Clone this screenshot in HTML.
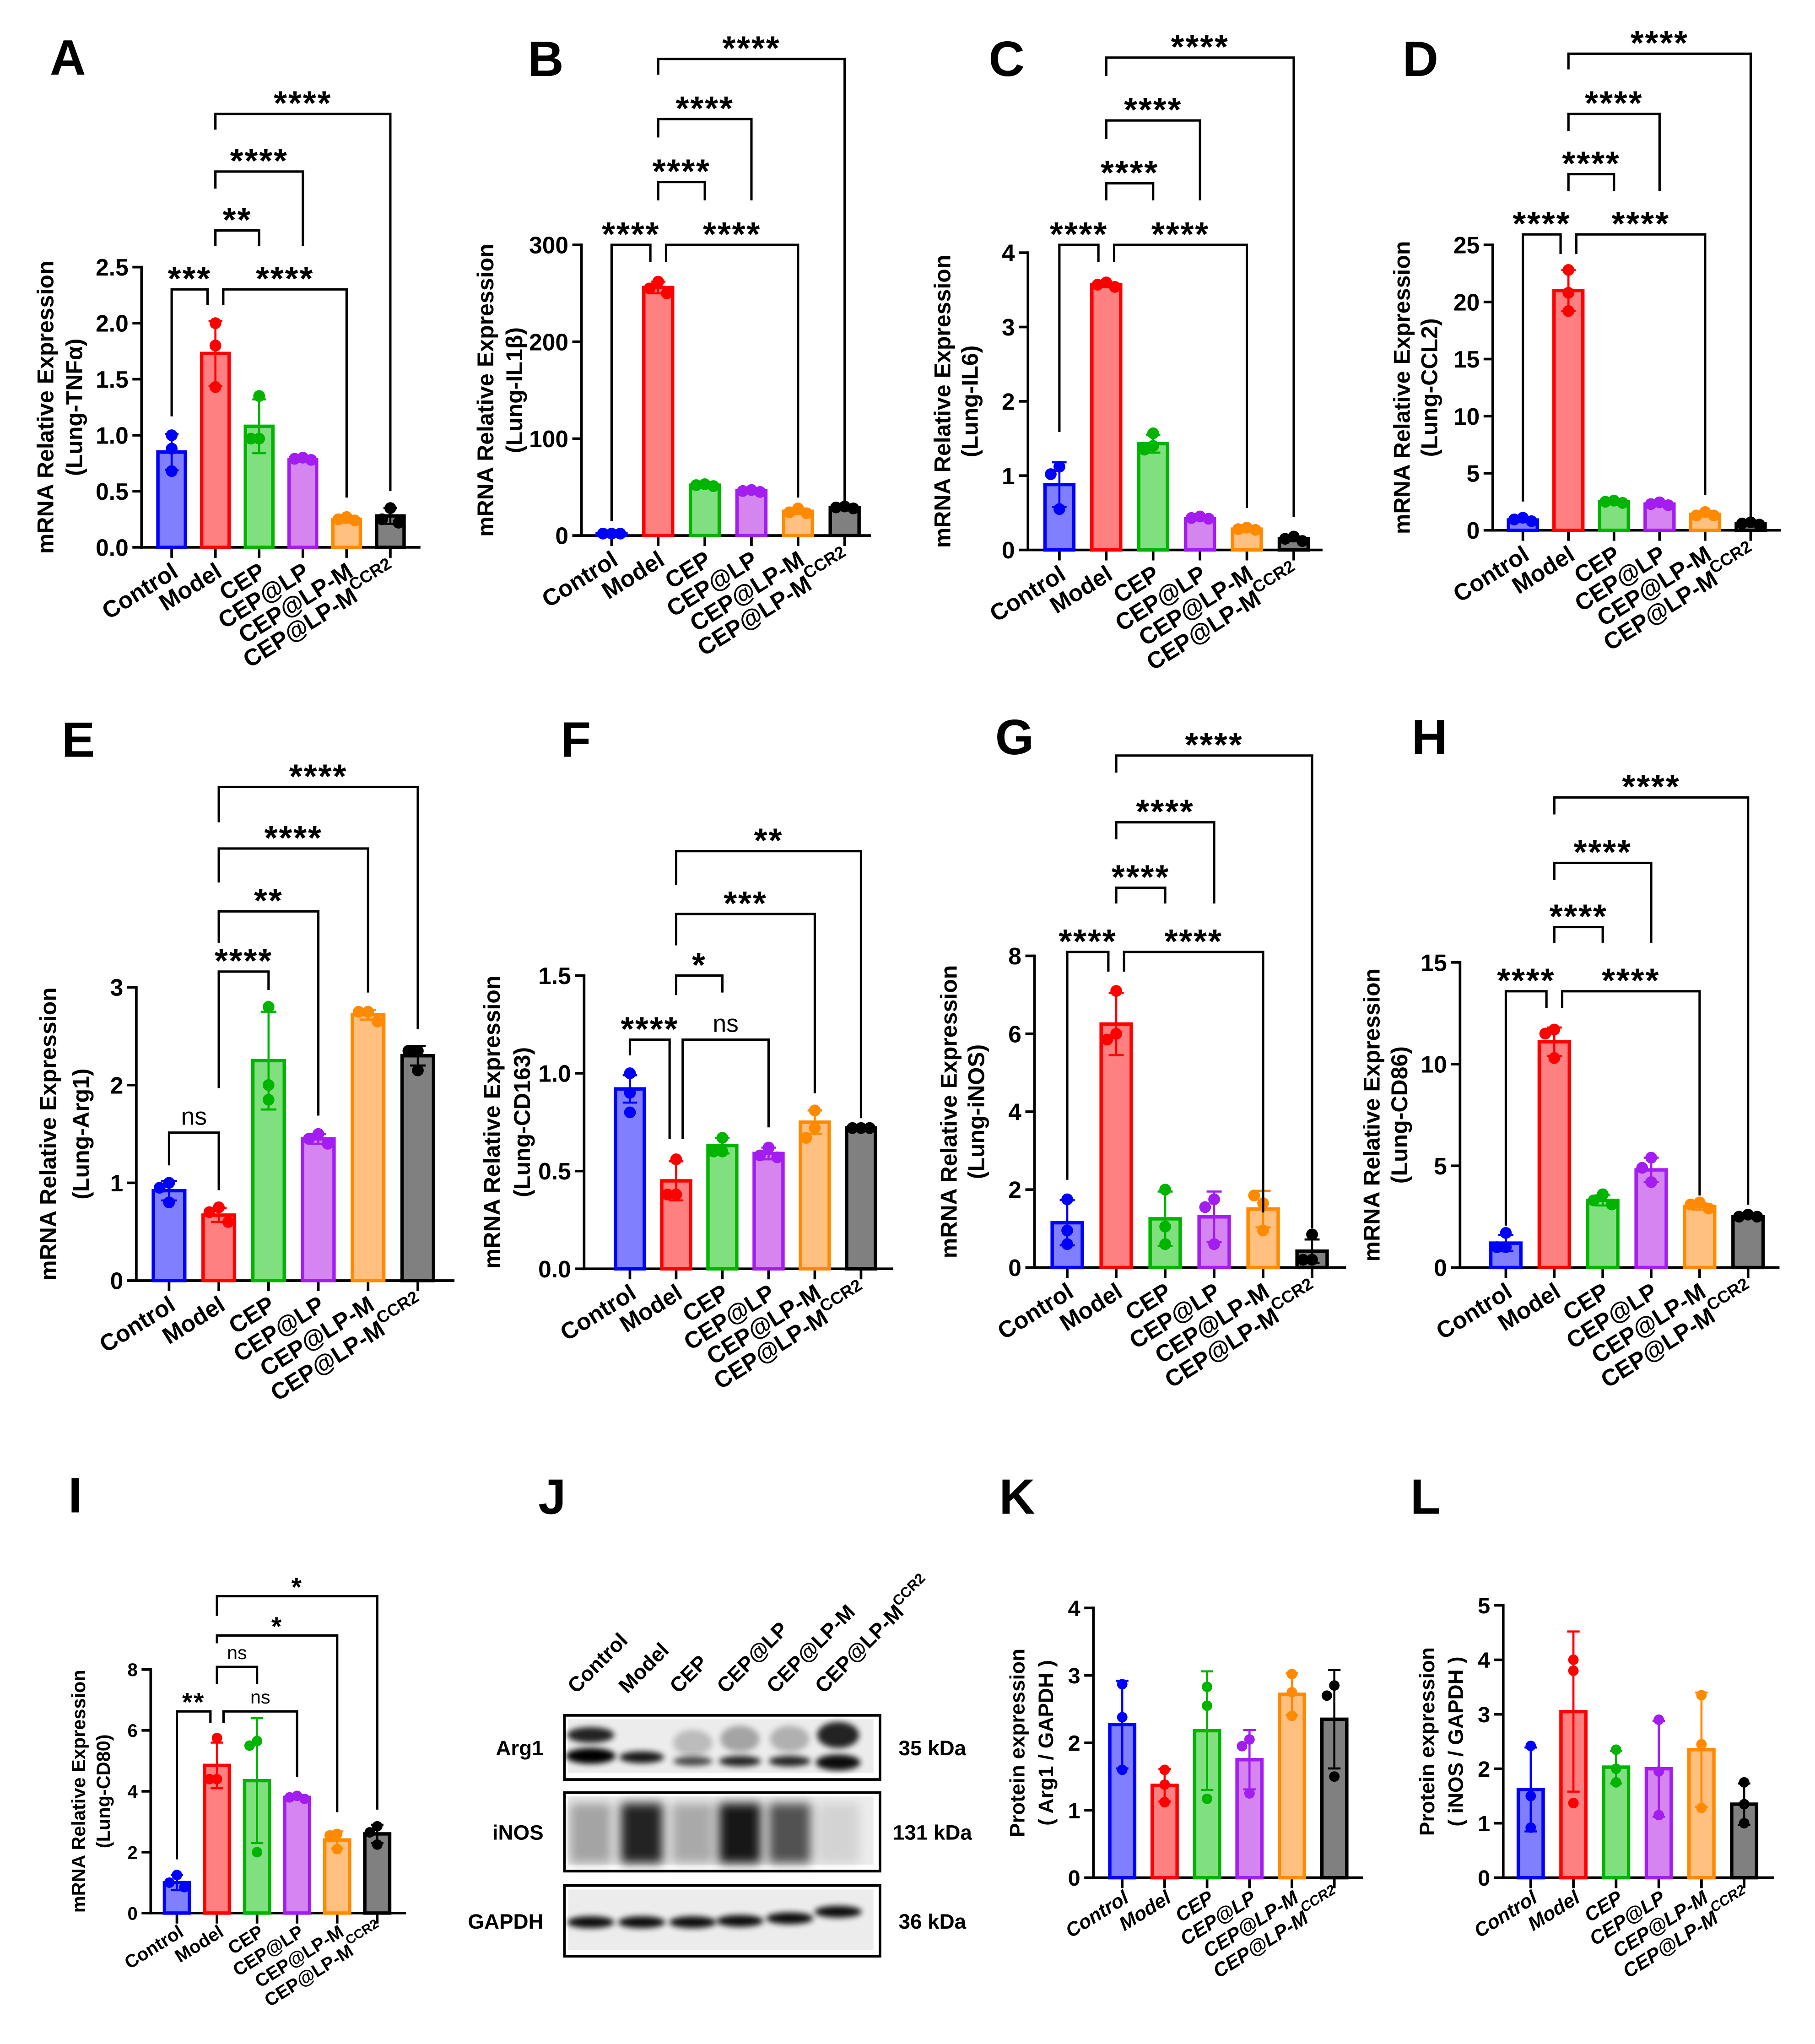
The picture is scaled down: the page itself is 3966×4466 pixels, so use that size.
<!DOCTYPE html>
<html><head><meta charset="utf-8"><style>
html,body{margin:0;padding:0;background:#fff;}
svg{display:block;font-family:"Liberation Sans",Arial,sans-serif;}
</style></head><body>
<svg id="fig" xmlns="http://www.w3.org/2000/svg" width="3966" height="4466" viewBox="0 0 1386 1561">
<defs><filter id="blur" x="-50%" y="-50%" width="200%" height="200%"><feGaussianBlur stdDeviation="2.2"/></filter>
<filter id="blur2" x="-50%" y="-50%" width="200%" height="200%"><feGaussianBlur stdDeviation="4"/></filter></defs>
<rect x="0" y="0" width="1386" height="1561" fill="#fff"/>
</svg>
<script>
// ---------- data ----------
const categories=['Control','Model','CEP','CEP@LP','CEP@LP-M','CEP@LP-M'];
const aMeans=[0.85,1.73,1.08,0.78,0.25,0.28];
const aPts=[[1.0,0.88,0.68],[2.0,1.8,1.43],[1.35,0.97,0.97],[0.8,0.79,0.78],[0.27,0.25,0.24],[0.35,0.25,0.22]];
const aErr=[0.16,0.29,0.24,0.02,0.03,0.07];
const aTicks=[0,0.5,1.0,1.5,2.0,2.5];
const aTickLabels=['0.0','0.5','1.0','1.5','2.0','2.5'];
const bMeans=[2,256,52,46,25,29];
const bPts=[[2,2,2],[262,255,250],[53,52,51],[47,46,45],[28,24,23],[30,29,28]];
const bErr=[0.5,6,1,1,3,1];
const bTicks=[0,100,200,300];
const bTickLabels=['0','100','200','300'];
const cMeans=[0.88,3.57,1.43,0.42,0.28,0.15];
const cPts=[[1.12,1.02,0.55],[3.6,3.57,3.54],[1.57,1.4,1.35],[0.45,0.43,0.42],[0.3,0.28,0.27],[0.18,0.15,0.12]];
const cErr=[0.3,0.03,0.12,0.02,0.02,0.03];
const cTicks=[0,1,2,3,4];
const cTickLabels=['0','1','2','3','4'];
const dMeans=[0.9,21,2.5,2.3,1.4,0.6];
const dPts=[[1.1,0.95,0.8],[22.8,20.8,19.2],[2.6,2.5,2.4],[2.45,2.3,2.2],[1.6,1.3,1.3],[0.7,0.6,0.5]];
const dErr=[0.15,1.8,0.1,0.12,0.17,0.1];
const dTicks=[0,5,10,15,20,25];
const dTickLabels=['0','5','10','15','20','25'];
const eMeans=[0.92,0.67,2.25,1.45,2.72,2.3];
const ePts=[[1.0,0.95,0.8],[0.75,0.7,0.6],[2.8,2.0,1.85],[1.5,1.45,1.4],[2.75,2.75,2.65],[2.35,2.35,2.15]];
const eErr=[0.1,0.07,0.5,0.05,0.05,0.1];
const eTicks=[0,1,2,3];
const eTickLabels=['0','1','2','3'];
const fMeans=[0.92,0.45,0.63,0.59,0.75,0.72];
const fPts=[[1.0,0.9,0.8],[0.56,0.38,0.38],[0.67,0.6,0.6],[0.62,0.58,0.57],[0.81,0.72,0.67],[0.72,0.72,0.72]];
const fErr=[0.07,0.1,0.04,0.03,0.06,0.005];
const fTicks=[0,0.5,1.0,1.5];
const fTickLabels=['0.0','0.5','1.0','1.5'];
const gMeans=[1.15,6.25,1.25,1.3,1.5,0.42];
const gPts=[[1.75,0.95,0.6],[7.1,6.0,5.85],[2.0,1.05,0.6],[1.75,1.55,0.6],[1.65,1.85,0.95],[0.85,0.2,0.2]];
const gErr=[0.58,0.8,0.7,0.65,0.47,0.3];
const gTicks=[0,2,4,6,8];
const gTickLabels=['0','2','4','6','8'];
const hMeans=[1.2,11.1,3.3,4.8,3.0,2.5];
const hPts=[[1.7,1.0,1.0],[11.7,11.5,10.3],[3.6,3.3,3.1],[5.4,4.9,4.2],[3.2,3.1,2.9],[2.6,2.5,2.5]];
const hErr=[0.4,0.7,0.25,0.6,0.15,0.08];
const hTicks=[0,5,10,15];
const hTickLabels=['0','5','10','15'];
const iMeans=[1.0,4.85,4.35,3.8,2.4,2.6];
const iPts=[[1.25,1.0,0.85],[5.75,4.4,4.4],[5.65,5.5,2.0],[3.85,3.8,3.75],[2.6,2.55,2.1],[2.85,2.65,2.25]];
const iErr=[0.25,0.75,2.05,0.05,0.28,0.3];
const iTicks=[0,2,4,6,8];
const iTickLabels=['0','2','4','6','8'];
const kMeans=[2.27,1.37,2.18,1.75,2.72,2.35];
const kPts=[[2.87,2.38,1.6],[1.6,1.38,1.12],[2.83,2.55,1.17],[2.05,1.95,1.25],[3.02,2.75,2.4],[2.85,2.7,1.5]];
const kErr=[0.65,0.24,0.88,0.44,0.31,0.73];
const kTicks=[0,1,2,3,4];
const kTickLabels=['0','1','2','3','4'];
const lMeans=[1.62,3.05,2.03,2.0,2.35,1.35];
const lPts=[[2.42,1.5,0.92],[4.0,3.8,1.37],[2.35,2.0,1.75],[2.9,1.95,1.15],[3.35,2.45,1.28],[1.75,1.35,1.0]];
const lErr=[0.77,1.47,0.3,0.88,1.05,0.38];
const lTicks=[0,1,2,3,4,5];
const lTickLabels=['0','1','2','3','4','5'];

// ---------- drawing ----------
const NS='http://www.w3.org/2000/svg';
const svg=document.getElementById('fig');
const EDGE=['#0000ff','#ff0000','#00b400','#a31cf0','#ff8a00','#000000'];
const FILL=['#8080ff','#ff8080','#80e080','#d585f0','#ffc080','#808080'];
function mk(tag,a,parent){const e=document.createElementNS(NS,tag);for(const k in a)e.setAttribute(k,a[k]);(parent||svg).appendChild(e);return e;}

function panel(c){
  const g=mk('g',{});
  
  
  const yS=v=>c.y0-v/c.max*(c.y0-c.yTop);
  const xS=i=>c.x1+i*c.step;
  const fs=c.fs||18;
  const L=mk('text',{x:c.letter[0],y:c.letter[1],'font-size':38,'font-weight':'bold'},g);L.textContent=c.id.toUpperCase();
  
  
  const ya=mk('line',{x1:c.ax,y1:c.yTop-1,x2:c.ax,y2:c.y0+1,stroke:'#000','stroke-width':2},g);
  
  
  const xa=mk('line',{x1:c.ax-1,y1:c.y0,x2:c.axEnd,y2:c.y0,stroke:'#000','stroke-width':2},g);
  
  
  c.ticks.forEach((t,k)=>{
    mk('line',{x1:c.ax-7,y1:yS(t),x2:c.ax,y2:yS(t),stroke:'#000','stroke-width':2},g);
    const tl=mk('text',{x:c.ax-10,y:yS(t)+fs*0.36,'font-size':fs,'font-weight':'bold','text-anchor':'end'},g);
    tl.textContent=c.tickLabels[k];
    
    
  });
  const mid=(c.y0+c.yTop)/2, tfs=c.tfs||17.5;
  [[c.t1,c.ax-c.off1],[c.t2,c.ax-c.off2]].forEach(([s,x],k)=>{
    const t=mk('text',{x:x,y:mid,'font-size':tfs,'font-weight':'bold','text-anchor':'middle',transform:`rotate(-90 ${x} ${mid})`,'dominant-baseline':'middle'},g);
    t.textContent=s;
    
    
  });
  const r=c.r||4.5;
  c.means.forEach((m,i)=>{
    const x=xS(i);
    mk('line',{x1:x,y1:c.y0,x2:x,y2:c.y0+8,stroke:'#000','stroke-width':2},g);
    const b=mk('rect',{x:x-c.bw/2,y:yS(m),width:c.bw,height:c.y0-yS(m),fill:FILL[i],stroke:EDGE[i],'stroke-width':2.6},g);
    
    
    const e=c.err[i],cw=c.bw*0.25;
    const eb=mk('path',{d:`M${x},${yS(m-e)}V${yS(m+e)}M${x-cw},${yS(m+e)}H${x+cw}M${x-cw},${yS(m-e)}H${x+cw}`,stroke:EDGE[i],'stroke-width':1.6,fill:'none'},g);
    
    
    const used=[];
    c.pts[i].forEach(v=>{
      const py=yS(v);let off=0;
      const near=used.filter(u=>Math.abs(u.y-py)<2*r);
      if(near.length){off=near.some(u=>u.o<0)?c.bw*0.3:-c.bw*0.3;if(near.some(u=>u.o<0)&&near.some(u=>u.o>0))off=0;}
      used.push({y:py,o:off});
      const p=mk('circle',{cx:x+off,cy:py,r:r,fill:EDGE[i]},g);
      
      
    });
    const cfs=c.cfs||18;
    const lx=x+6,ly=c.y0+cfs*1.2;
    const t=mk('text',{x:lx,y:ly,'font-size':cfs,'font-weight':'bold','font-style':c.italic?'italic':'normal','text-anchor':'end',transform:`rotate(-32 ${lx} ${ly})`},g);
    t.textContent=categories[i];
    if(i==5){const s=mk('tspan',{'font-size':cfs*0.72,dy:-8},t);s.textContent='CCR2';}
    
    
  });
  (c.br||[]).forEach(b=>{
    const [i,di,j,dj,y,lab,lb,rb]=b;
    const x1=xS(i)+di,x2=xS(j)+dj;
    const p=mk('path',{d:`M${x1},${lb}V${y}H${x2}V${rb}`,stroke:'#000','stroke-width':1.8,fill:'none'},g);
    
    
    const ns=lab==='ns';
    const sfs=c.sfs||26;
    const t=mk('text',{x:(x1+x2)/2,y:ns?y-6:y-3+sfs*0.14,'font-size':ns?sfs*0.72:sfs,'font-weight':ns?'normal':'bold','text-anchor':'middle','letter-spacing':ns?0:1},g);
    t.textContent=lab;
    
    
  });
}

const T1='mRNA Relative Expression';
panel({id:'a',letter:[38,57],ax:108,axEnd:321,y0:418,yTop:204,max:2.5,ticks:aTicks,tickLabels:aTickLabels,x1:131,step:33.4,bw:21,means:aMeans,pts:aPts,err:aErr,t1:T1,t2:'(Lung-TNFα)',off1:72,off2:50,
 br:[[0,0,1,-6,221,'***',318,233],[1,6,4,0,221,'****',233,380],[1,0,2,0,176,'**',188,188],[1,0,3,0,131,'****',144,188],[1,0,5,0,87,'****',99,375]]});
panel({id:'b',letter:[403,58],ax:444,axEnd:665,y0:409,yTop:187,max:300,ticks:bTicks,tickLabels:bTickLabels,x1:467,step:35.6,bw:22,means:bMeans,pts:bPts,err:bErr,t1:T1,t2:'(Lung-IL1β)',off1:72,off2:50,
 br:[[0,0,1,-6,187,'****',398,200],[1,6,4,0,187,'****',200,380],[1,0,2,0,139,'****',153,153],[1,0,3,0,91,'****',105,153],[1,0,5,0,45,'****',57,385]]});
panel({id:'c',letter:[755,58],ax:785,axEnd:1010,y0:420,yTop:193,max:4,ticks:cTicks,tickLabels:cTickLabels,x1:809,step:35.8,bw:22,means:cMeans,pts:cPts,err:cErr,t1:T1,t2:'(Lung-IL6)',off1:64,off2:43,
 br:[[0,0,1,-6,187,'****',330,200],[1,6,4,0,187,'****',200,388],[1,0,2,0,140,'****',153,153],[1,0,3,0,92,'****',106,153],[1,0,5,0,44,'****',58,395]]});
panel({id:'d',letter:[1071,58],ax:1140,axEnd:1360,y0:405,yTop:187,max:25,ticks:dTicks,tickLabels:dTickLabels,x1:1163,step:34.8,bw:22,means:dMeans,pts:dPts,err:dErr,t1:T1,t2:'(Lung-CCL2)',off1:68,off2:47,
 br:[[0,0,1,-6,179,'****',383,194],[1,6,4,0,179,'****',194,378],[1,0,2,0,133,'****',146,146],[1,0,3,0,87,'****',100,146],[1,0,5,0,41,'****',53,396]]});
panel({id:'e',letter:[47,578],ax:104,axEnd:347,y0:978,yTop:754,max:3,ticks:eTicks,tickLabels:eTickLabels,x1:129,step:38,bw:24,means:eMeans,pts:ePts,err:eErr,t1:T1,t2:'(Lung-Arg1)',off1:66,off2:41,
 br:[[0,0,1,0,865,'ns',890,909],[1,0,2,0,742,'****',831,756],[1,0,3,0,696,'**',720,852],[1,0,4,0,648,'****',674,758],[1,0,5,0,601,'****',628,786]]});
panel({id:'f',letter:[428,578],ax:446,axEnd:682,y0:969,yTop:745,max:1.5,ticks:fTicks,tickLabels:fTickLabels,x1:481,step:35.3,bw:22,means:fMeans,pts:fPts,err:fErr,t1:T1,t2:'(Lung-CD163)',off1:69,off2:46,
 br:[[0,0,1,-5,794,'****',806,870],[1,5,3,0,794,'ns',870,861],[1,0,2,0,745,'*',760,758],[1,0,4,0,698,'***',722,835],[1,0,5,0,650,'**',676,854]]});
panel({id:'g',letter:[760,576],ax:790,axEnd:1028,y0:968,yTop:730,max:8,ticks:gTicks,tickLabels:gTickLabels,x1:815,step:37.4,bw:23,means:gMeans,pts:gPts,err:gErr,t1:T1,t2:'(Lung-iNOS)',off1:64,off2:43,
 br:[[0,0,1,-6,727,'****',901,742],[1,6,4,0,727,'****',742,926],[1,0,2,0,678,'****',690,690],[1,0,3,0,628,'****',641,690],[1,0,5,0,577,'****',590,938]]});
panel({id:'h',letter:[1078,576],ax:1115,axEnd:1359,y0:968,yTop:735,max:15,ticks:hTicks,tickLabels:hTickLabels,x1:1150,step:37,bw:23,means:hMeans,pts:hPts,err:hErr,t1:T1,t2:'(Lung-CD86)',off1:66,off2:45,
 br:[[0,0,1,-6,757,'****',936,770],[1,6,4,0,757,'****',770,913],[1,0,2,0,708,'****',720,720],[1,0,3,0,659,'****',672,720],[1,0,5,0,609,'****',622,920]]});
panel({id:'i',letter:[52,1155],ax:115,axEnd:310,y0:1461,yTop:1275,max:8,ticks:iTicks,tickLabels:iTickLabels,x1:135,step:30.6,bw:19,means:iMeans,pts:iPts,err:iErr,t1:T1,t2:'(Lung-CD80)',off1:54,off2:35,fs:14,tfs:14.5,cfs:14,sfs:20,r:4,
 br:[[0,0,1,-5,1307,'**',1420,1316],[1,5,3,0,1307,'ns',1316,1357],[1,0,2,0,1273,'ns',1286,1286],[1,0,4,0,1249,'*',1255,1384],[1,0,5,0,1219,'*',1234,1382]]});
panel({id:'k',letter:[763,1156],ax:835,axEnd:1041,y0:1434,yTop:1228,max:4,ticks:kTicks,tickLabels:kTickLabels,x1:857,step:32.4,bw:19,means:kMeans,pts:kPts,err:kErr,t1:'Protein expression',t2:'( Arg1 / GAPDH )',off1:57,off2:35,fs:17,tfs:16,cfs:15,italic:true,r:4});
panel({id:'l',letter:[1077,1156],ax:1148,axEnd:1355,y0:1434,yTop:1226,max:5,ticks:lTicks,tickLabels:lTickLabels,x1:1169,step:32.6,bw:19,means:lMeans,pts:lPts,err:lErr,t1:'Protein expression',t2:'( iNOS / GAPDH )',off1:57,off2:35,fs:17,tfs:16,cfs:15,italic:true,r:4});

// ---------- western blot (panel J) ----------
(function(){
  const g=mk('g',{});
  
  
  const L=mk('text',{x:411,y:1156,'font-size':38,'font-weight':'bold'},g);L.textContent='J';
  
  
  const lanes=[451,490,529,565,603,640];
  lanes.forEach((x,i)=>{
    const t=mk('text',{x:x-11,y:1294,'font-size':16,'font-weight':'bold',transform:`rotate(-45 ${x-11} 1294)`},g);
    t.textContent=categories[i];
    if(i==5){const s=mk('tspan',{'font-size':11,dy:-7},t);s.textContent='CCR2';}
    
    
  });
  const boxes=[[1310,1359,'Arg1','35 kDa'],[1369,1429,'iNOS','131 kDa'],[1440,1494,'GAPDH','36 kDa']];
  boxes.forEach(([y1,y2,n,k],bi)=>{
    mk('rect',{x:434,y:y1+3,width:233,height:y2-y1-8,fill:'#ececec'},g);
    if(bi==0){
      [[0,1325,18,6,.85],[0,1341,19,6,1],[1,1342,17,4.5,.9],[2,1331,15,10,.2],[2,1345,15,3.5,.7],[3,1328,15,10,.3],[3,1345,16,4,.85],[4,1328,15,10,.25],[4,1345,16,4,.85],[5,1325,16,10,.85],[5,1346,17,6,.95]].forEach(([l,cy,rx,ry,o])=>mk('ellipse',{cx:lanes[l],cy:cy,rx:rx,ry:ry,fill:'#000',opacity:o,filter:'url(#blur)'},g));
    } else if(bi==1){
      [.3,.85,.28,.9,.65,.1].forEach((o,l)=>mk('rect',{x:lanes[l]-16,y:1377,width:32,height:46,fill:'#000',opacity:o,filter:'url(#blur2)'},g));
    } else {
      [1468,1468,1468,1467,1465,1460].forEach((cy,l)=>mk('ellipse',{cx:lanes[l],cy:cy,rx:18,ry:4.5,fill:'#000',opacity:.95,filter:'url(#blur)'},g));
    }
    const r=mk('rect',{x:431,y:y1,width:241,height:y2-y1,fill:'none',stroke:'#000','stroke-width':2},g);
    
    
    const tn=mk('text',{x:415,y:(y1+y2)/2+6,'font-size':16,'font-weight':'bold','text-anchor':'end'},g);tn.textContent=n;
    
    
    const tk=mk('text',{x:712,y:(y1+y2)/2+6,'font-size':16,'font-weight':'bold','text-anchor':'middle'},g);tk.textContent=k;
    
    
  });
})();
</script>
</body></html>
